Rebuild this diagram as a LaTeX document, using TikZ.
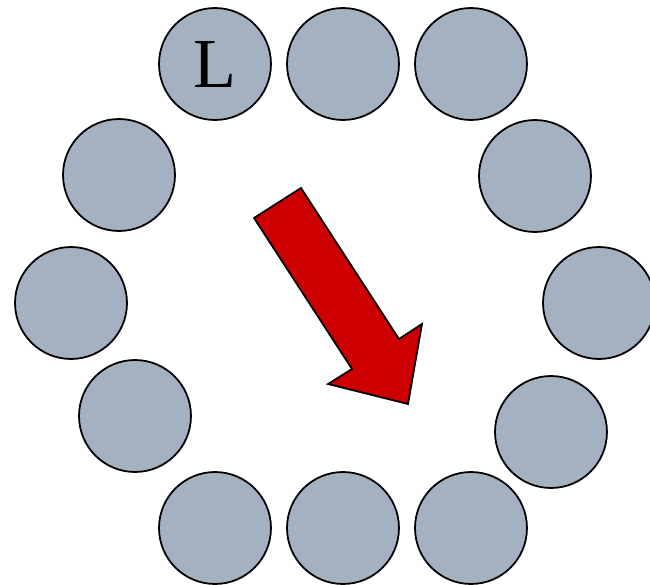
\documentclass[tikz,border=0pt]{standalone}
\usepackage{fontspec}
\setmainfont{Liberation Serif}
\usepackage{tikz}
\usetikzlibrary{positioning}
\definecolor{seatGray}{RGB}{163,177,192}
\definecolor{turnRed}{RGB}{204,0,0}
\tikzset{
    base/.style={font=\fontsize{40}{40}\selectfont, align=center},
    seat/.style={base, circle, draw=black, line width=1pt, fill=seatGray,
                 inner sep=0pt, minimum size=2.24cm},
    turn/.style={draw=black, line width=1pt, fill=turnRed, line join=miter}
}
\begin{document}
\begin{tikzpicture}[x=0.02cm, y=-0.02cm]
  \useasboundingbox (0,0) rectangle (650,585);
  % Top row
  \node[seat] (t1) at (215,64) {L};
  \node[seat] (t2) at (343,64) {};
  \node[seat] (t3) at (471,64) {};
  
  % Left side
  \node[seat] (l1) at (119,175) {};
  \node[seat] (l2) at (71,303) {};
  \node[seat] (l3) at (135,416) {};
  
  % Right side
  \node[seat] (r1) at (535,176) {};
  \node[seat] (r2) at (599,303) {};
  \node[seat] (r3) at (551,432) {};
  
  % Bottom row
  \node[seat] (b1) at (215,528) {};
  \node[seat] (b2) at (343,528) {};
  \node[seat] (b3) at (471,528) {};
  
  % Direction arrow
  \draw[turn] (254,218) -- (301,188) -- (399,339) -- (422,324)
              -- (408,404) -- (328,384) -- (352,369) -- cycle;
\end{tikzpicture}
\end{document}
